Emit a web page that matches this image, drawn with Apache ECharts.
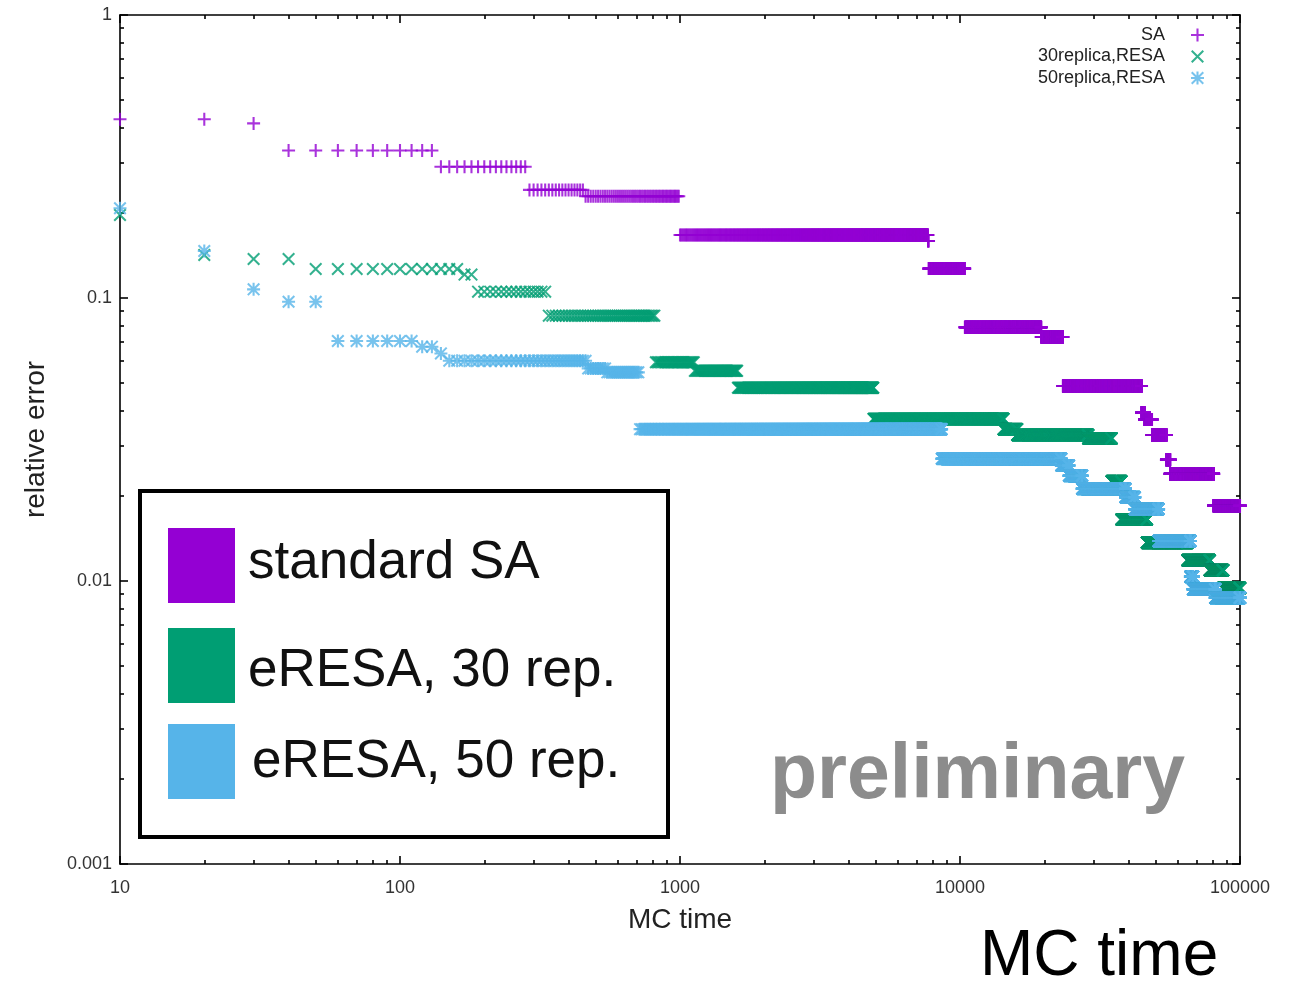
<!DOCTYPE html>
<html>
<head>
<meta charset="utf-8">
<script src="https://cdn.jsdelivr.net/npm/echarts@6/dist/echarts.min.js"></script>
<style>
  html, body { margin: 0; padding: 0; background: #fff; overflow: hidden; }
  #chart { width: 1270px; height: 982px; }
</style>
</head>
<body>
<div id="chart"></div>
<script>
// Relative error is recorded every MC_STEP Monte Carlo steps. The best error found
// stays constant between improvements, so each curve is stored as runs:
// the MC time where a run begins and the error held during that run.
const MC_STEP = 10;
const MC_END = 100000;

// standard SA
const saRunStart = [10, 30, 40, 140, 290, 460, 1000, 7690, 7730, 10410, 19510, 23310, 44510, 45610, 48510, 54610, 56310, 80510];
const saRunError = [0.428, 0.414, 0.332, 0.291, 0.241, 0.229, 0.167, 0.159, 0.127, 0.0788, 0.0728, 0.0489, 0.0393, 0.0372, 0.0328, 0.0268, 0.0239, 0.01845];

// eRESA, 30 replicas
const re30RunStart = [10, 20, 30, 50, 170, 190, 340, 820, 1130, 1610, 4910, 14310, 16010, 28710, 34810, 37710, 46510, 64910, 78010, 87010];
const re30RunError = [0.1965, 0.142, 0.1373, 0.1266, 0.121, 0.1053, 0.0866, 0.0593, 0.0553, 0.0482, 0.0374, 0.0344, 0.0328, 0.0319, 0.0225, 0.0165, 0.01366, 0.01183, 0.01092, 0.00945];

// eRESA, 50 replicas
const re50RunStart = [10, 20, 30, 40, 60, 120, 140, 150, 470, 550, 720, 8610, 23010, 24510, 27310, 39010, 42110, 51210, 66510, 68010, 81610];
const re50RunError = [0.2075, 0.1466, 0.1073, 0.097, 0.0705, 0.0673, 0.0637, 0.06, 0.0564, 0.0546, 0.0344, 0.02705, 0.0256, 0.02355, 0.02118, 0.01976, 0.01795, 0.01384, 0.01036, 0.00936, 0.00872];

// axis tick values
const xMajorTicks = [10, 100, 1000, 10000, 100000];
const yMajorTicks = [0.001, 0.01, 0.1, 1];
const minorSteps = [2, 3, 4, 5, 6, 7, 8, 9];

const seriesNames = ['SA', '30replica,RESA', '50replica,RESA'];
const seriesColors = ['#9400d3', '#009e73', '#56b4e9'];

// gnuplot-style point shapes: plus, cross, asterisk
const PLUS = 'M42,0H58V42H100V58H58V100H42V58H0V42H42Z';
const CROSS = 'M0,11L11,0L100,89L89,100ZM89,0L100,11L11,100L0,89Z';
const symbols = ['path://' + PLUS, 'path://' + CROSS, 'path://' + PLUS + CROSS];

function expandRuns(starts, errors) {
  const pts = [];
  for (let i = 0; i < starts.length; i++) {
    const stop = i + 1 < starts.length ? starts[i + 1] : MC_END + MC_STEP;
    for (let t = starts[i]; t < stop; t += MC_STEP) pts.push([t, errors[i]]);
  }
  return pts;
}

function minorOf(majors) {
  const out = [];
  for (let i = 0; i < majors.length - 1; i++) {
    minorSteps.forEach(k => out.push(+(k * majors[i]).toPrecision(6)));
  }
  return out;
}
const xMinorTicks = minorOf(xMajorTicks);
const yMinorTicks = minorOf(yMajorTicks);

const FONT = '"Liberation Sans", Arial, sans-serif';
const AXIS_COLOR = '#000';

function makeAxes(kind) {
  const isX = kind === 'x';
  const majors = isX ? xMajorTicks : yMajorTicks;
  const minors = isX ? xMinorTicks : yMinorTicks;
  const sides = isX ? ['bottom', 'top'] : ['left', 'right'];
  const base = {
    type: 'log', logBase: 10,
    min: isX ? 10 : 0.001, max: isX ? 100000 : 1,
    splitLine: { show: false },
    axisLine: { show: false, onZero: false },
    axisLabel: { show: false },
    axisTick: { show: false }
  };
  const axes = [];
  sides.forEach((pos, s) => {
    axes.push(Object.assign({}, base, {
      position: pos,
      axisLine: { show: true, onZero: false, lineStyle: { color: AXIS_COLOR, width: 1.6 } },
      axisTick: { show: true, inside: true, length: 8, customValues: majors, lineStyle: { color: AXIS_COLOR, width: 1.6 } },
      axisLabel: s === 0 ? {
        show: true, customValues: majors, margin: isX ? 15 : 8,
        fontSize: 18, color: '#333', fontFamily: FONT,
        formatter: v => String(+Number(v).toPrecision(6))
      } : { show: false }
    }));
    axes.push(Object.assign({}, base, {
      position: pos,
      axisTick: { show: true, inside: true, length: 4, customValues: minors, lineStyle: { color: AXIS_COLOR, width: 1.6 } }
    }));
  });
  Object.assign(axes[0], isX ? {
    name: 'MC time', nameLocation: 'middle', nameGap: 42,
    nameTextStyle: { fontSize: 28, color: '#222', fontFamily: FONT }
  } : {
    name: 'relative error', nameLocation: 'middle', nameGap: 70,
    nameTextStyle: { fontSize: 28, color: '#222', fontFamily: FONT }
  });
  return axes;
}

const runData = [
  expandRuns(saRunStart, saRunError),
  expandRuns(re30RunStart, re30RunError),
  expandRuns(re50RunStart, re50RunError)
];

const series = seriesNames.map((name, i) => ({
  type: 'scatter',
  name: name,
  xAxisIndex: 0,
  yAxisIndex: 0,
  data: runData[i],
  symbol: symbols[i],
  symbolSize: 13,
  itemStyle: { color: seriesColors[i] },
  clip: false,
  progressive: 0,
  silent: true,
  emphasis: { disabled: true }
}));

const boxTexts = ['standard SA', 'eRESA, 30 rep.', 'eRESA, 50 rep.'];
const boxSwatchTop = [528, 628, 724];
const boxTextX = [248, 248, 252];
const boxTextY = [563, 671, 762];

const graphics = [
  { type: 'rect', z: 100, shape: { x: 140, y: 491, width: 528, height: 346 },
    style: { fill: '#fff', stroke: '#000', lineWidth: 4 } }
];
boxTexts.forEach((t, i) => {
  graphics.push({ type: 'rect', z: 101, shape: { x: 168, y: boxSwatchTop[i], width: 67, height: 75 },
    style: { fill: seriesColors[i] } });
  graphics.push({ type: 'text', z: 101, x: boxTextX[i], y: boxTextY[i],
    style: { text: t, font: '53px ' + FONT, fill: '#111', verticalAlign: 'middle', align: 'left' } });
});
graphics.push({ type: 'text', z: 101, x: 770, y: 777,
  style: { text: 'preliminary', font: 'bold 77px ' + FONT, fill: '#8c8c8c', verticalAlign: 'middle', align: 'left' } });
graphics.push({ type: 'text', z: 101, x: 980, y: 957,
  style: { text: 'MC time', font: '64px ' + FONT, fill: '#000', verticalAlign: 'middle', align: 'left' } });

const chart = echarts.init(document.getElementById('chart'), null, { renderer: 'canvas' });
chart.setOption({
  animation: false,
  backgroundColor: '#fff',
  textStyle: { fontFamily: FONT },
  grid: { left: 120, right: 30, top: 15, bottom: 118, containLabel: false, outerBoundsMode: 'none' },
  legend: {
    data: seriesNames,
    orient: 'vertical',
    align: 'right',
    right: 66,
    top: 26,
    padding: 0,
    itemWidth: 13,
    itemHeight: 13,
    itemGap: 3.5,
    selectedMode: false,
    textStyle: { fontSize: 18, color: '#222', fontFamily: FONT, padding: [0, 21, 0, 0] }
  },
  xAxis: makeAxes('x'),
  yAxis: makeAxes('y'),
  series: series,
  graphic: graphics
});
</script>
</body>
</html>
